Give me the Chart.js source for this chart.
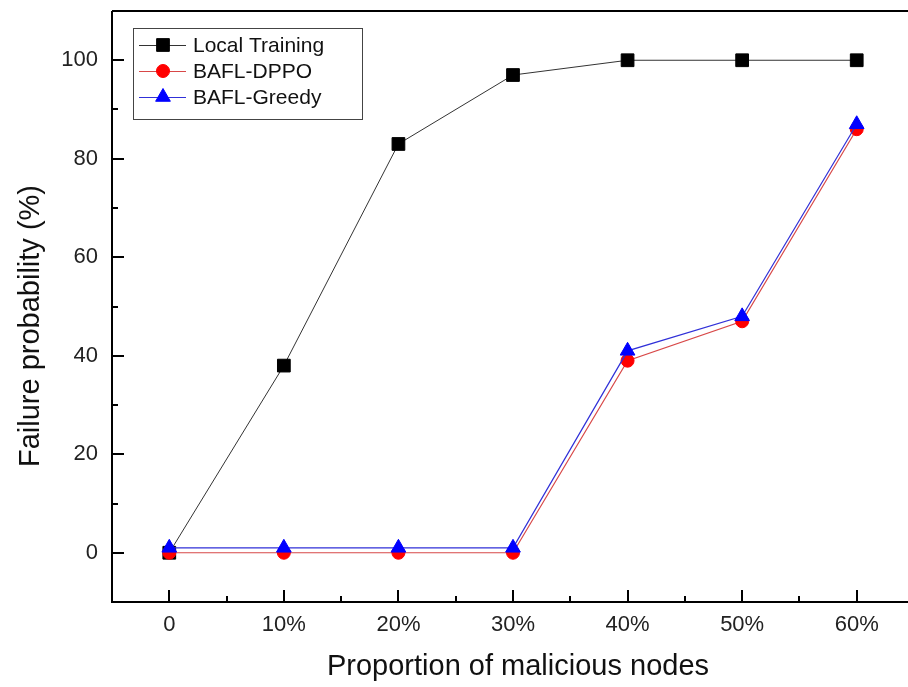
<!DOCTYPE html>
<html>
<head>
<meta charset="utf-8">
<script src="https://cdn.jsdelivr.net/npm/chart.js@4/dist/chart.umd.min.js"></script>
<style>
  html, body { margin: 0; padding: 0; background: #fff; overflow: hidden; }
  #wrap { width: 908px; height: 687px; overflow: hidden; }
  canvas { display: block; }
</style>
</head>
<body>
<div id="wrap"><canvas id="c" width="915" height="687"></canvas></div>
<script>
const categories = ['0', '10%', '20%', '30%', '40%', '50%', '60%'];
const localTraining = [0, 38, 83, 97, 100, 100, 100];
const baflDPPO = [0, 0, 0, 0, 39, 47, 86];
const baflGreedy = [1, 1, 1, 1, 41, 48, 87];
const seriesNames = ['Local Training', 'BAFL-DPPO', 'BAFL-Greedy'];
const xTitle = 'Proportion of malicious nodes';
const yTitle = 'Failure probability (%)';

const FONT = '"Liberation Sans", Arial, sans-serif';

function drawMarker(ctx, style, r, x, y, fill, stroke) {
  if (Chart.helpers && Chart.helpers.drawPoint) {
    ctx.fillStyle = fill; ctx.strokeStyle = stroke; ctx.lineWidth = 1;
    Chart.helpers.drawPoint(ctx, {pointStyle: style, radius: r, rotation: 0, borderWidth: 1}, x, y);
  }
}

function noPad(s) {
  s.paddingTop = 0; s.paddingBottom = 0; s.paddingLeft = 0; s.paddingRight = 0;
}

const framePlugin = {
  id: 'frame',
  afterDraw(chart) {
    const ctx = chart.ctx;
    const {left, top, right, bottom} = chart.chartArea;
    const xs = chart.scales.x, ys = chart.scales.y;
    ctx.save();
    ctx.strokeStyle = '#000';
    ctx.lineWidth = 2;
    ctx.beginPath();
    ctx.moveTo(left, top); ctx.lineTo(left, bottom); ctx.lineTo(right, bottom);
    ctx.moveTo(left, top); ctx.lineTo(right, top);
    ctx.stroke();
    ctx.beginPath();
    ys.ticks.forEach(t => {
      const v = t.value;
      if (v <= ys.min || v >= ys.max) return;
      const p = Math.round(ys.getPixelForValue(v));
      const len = (v % 20 === 0) ? 12 : 6;
      ctx.moveTo(left, p); ctx.lineTo(left + len, p);
    });
    const n = categories.length;
    for (let i = 0; i < n; i++) {
      const p = Math.round(xs.getPixelForValue(i));
      ctx.moveTo(p, bottom); ctx.lineTo(p, bottom - 12);
      if (i < n - 1) {
        const m = Math.round((xs.getPixelForValue(i) + xs.getPixelForValue(i + 1)) / 2);
        ctx.moveTo(m, bottom); ctx.lineTo(m, bottom - 6);
      }
    }
    ctx.stroke();

    ctx.fillStyle = '#111';
    ctx.font = '29px ' + FONT;
    ctx.textAlign = 'center';
    ctx.textBaseline = 'middle';
    ctx.fillText(xTitle, 518, 667);
    ctx.save();
    ctx.translate(31, 326);
    ctx.rotate(-Math.PI / 2);
    ctx.fillText(yTitle, 0, 0);
    ctx.restore();

    ctx.lineWidth = 1;
    ctx.strokeStyle = '#444';
    ctx.strokeRect(133.5, 28.5, 229, 91);
    const rows = [45, 71, 97];
    chart.data.datasets.forEach((ds, i) => {
      const yy = rows[i];
      ctx.beginPath();
      ctx.strokeStyle = ds.borderColor;
      ctx.lineWidth = ds.borderWidth;
      ctx.moveTo(139, yy + 0.5); ctx.lineTo(186, yy + 0.5);
      ctx.stroke();
      drawMarker(ctx, ds.pointStyle, ds.pointRadius, 163, yy, ds.pointBackgroundColor, ds.pointBorderColor);
      ctx.fillStyle = '#111';
      ctx.font = '21px ' + FONT;
      ctx.textAlign = 'left';
      ctx.textBaseline = 'middle';
      ctx.fillText(ds.label, 193, yy + 1);
    });
    ctx.restore();
  }
};

new Chart(document.getElementById('c'), {
  type: 'line',
  data: {
    labels: categories,
    datasets: [
      {
        label: seriesNames[0], data: localTraining,
        borderColor: '#333', borderWidth: 1,
        pointStyle: 'rect', pointRadius: 9,
        pointBackgroundColor: '#000', pointBorderColor: '#000', pointBorderWidth: 1,
        order: 3, tension: 0
      },
      {
        label: seriesNames[1], data: baflDPPO,
        borderColor: '#d84848', borderWidth: 1.2,
        pointStyle: 'circle', pointRadius: 6.5,
        pointBackgroundColor: '#ff0000', pointBorderColor: '#ff0000', pointBorderWidth: 1,
        order: 2, tension: 0
      },
      {
        label: seriesNames[2], data: baflGreedy,
        borderColor: '#3030d8', borderWidth: 1.2,
        pointStyle: 'triangle', pointRadius: 8.5,
        pointBackgroundColor: '#0000ff', pointBorderColor: '#0000ff', pointBorderWidth: 1,
        order: 1, tension: 0
      }
    ]
  },
  options: {
    responsive: false,
    animation: false,
    devicePixelRatio: 1,
    clip: false,
    layout: { autoPadding: false, padding: { top: 11, right: 1, left: 0, bottom: 0 } },
    plugins: { legend: { display: false }, tooltip: { enabled: false } },
    scales: {
      x: {
        type: 'category', offset: true,
        grid: { display: false, drawTicks: false },
        border: { display: false },
        ticks: { font: { family: FONT, size: 22 }, color: '#222', padding: 10, maxRotation: 0, autoSkip: false },
        afterFit(s) { s.height = 85; noPad(s); }
      },
      y: {
        min: -10, max: 110,
        grid: { display: false, drawTicks: false },
        border: { display: false },
        ticks: {
          stepSize: 10, autoSkip: false,
          callback: v => (v >= 0 && v % 20 === 0) ? String(v) : '',
          font: { family: FONT, size: 22 }, color: '#222', padding: 14
        },
        afterFit(s) { s.width = 112; noPad(s); }
      }
    }
  },
  plugins: [framePlugin]
});
</script>
</body>
</html>
